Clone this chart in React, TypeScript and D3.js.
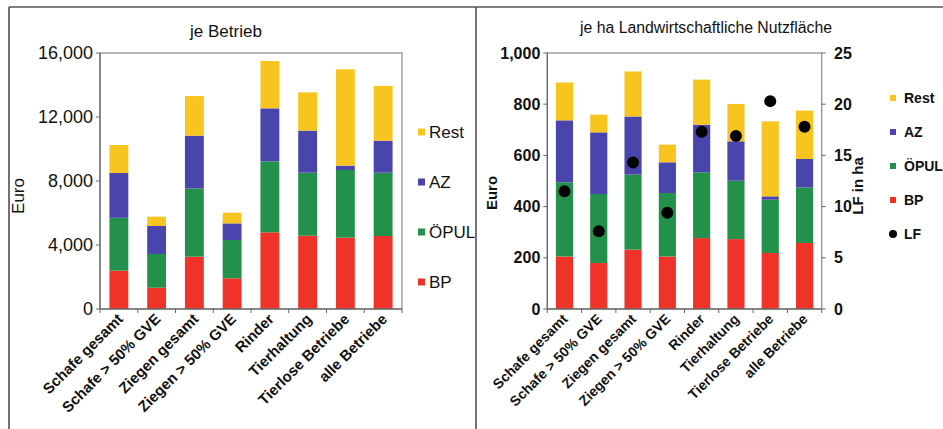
import * as d3 from "d3";

const categories = [
  "Schafe gesamt",
  "Schafe > 50% GVE",
  "Ziegen gesamt",
  "Ziegen > 50% GVE",
  "Rinder",
  "Tierhaltung",
  "Tierlose Betriebe",
  "alle Betriebe",
];
const seriesKeys = ["BP", "ÖPUL", "AZ", "Rest"];

// je Betrieb (Euro)
const betriebBP = [2400, 1330, 3270, 1920, 4790, 4580, 4460, 4560];
const betriebOEPUL = [3300, 2110, 4270, 2390, 4440, 3940, 4230, 3960];
const betriebAZ = [2800, 1750, 3290, 1040, 3310, 2630, 270, 2000];
const betriebRest = [1750, 580, 2480, 670, 2960, 2390, 6020, 3420];

// je ha LF (Euro)
const haBP = [205, 180, 232, 205, 277, 273, 219, 258];
const haOEPUL = [290, 269, 293, 248, 257, 228, 208, 217];
const haAZ = [242, 241, 227, 120, 186, 154, 13, 111];
const haRest = [148, 69, 176, 69, 176, 146, 293, 189];
const haLF = [11.5, 7.6, 14.3, 9.4, 17.3, 16.9, 20.3, 17.8];

const leftTicks = [0, 4000, 8000, 12000, 16000];
const rightTicks = [0, 200, 400, 600, 800, 1000];
const lfTicks = [0, 5, 10, 15, 20, 25];

const colors: Record<string, string> = {
  BP: "#ef3328",
  ÖPUL: "#23914b",
  AZ: "#4a44ad",
  Rest: "#f8c41f",
};

type Row = { cat: string; [k: string]: any };

function buildRows(bp: number[], oe: number[], az: number[], rest: number[]): Row[] {
  return categories.map((c, i) => ({ cat: c, BP: bp[i], ÖPUL: oe[i], AZ: az[i], Rest: rest[i] }));
}

interface PanelProps {
  rows: Row[];
  x0: number;
  x1: number;
  max: number;
  ticks: number[];
  tickFont: any;
  labelSize: number;
  labelDx: number;
}

function Panel({ rows, x0, x1, max, ticks, tickFont, labelSize, labelDx }: PanelProps) {
  const top = 53;
  const bottom = 309;
  const x = d3.scaleBand<string>().domain(categories).range([x0, x1]).paddingInner(0.5).paddingOuter(0.25);
  const y = d3.scaleLinear().domain([0, max]).range([bottom, top]);
  const stacked = d3.stack<Row>().keys(seriesKeys)(rows);
  const fmt = d3.format(",");
  const step = x.step();

  return (
    <g>
      {stacked.map((s) => (
        <g key={s.key} fill={colors[s.key]}>
          {s.map((d, i) => (
            <rect
              key={i}
              x={x(d.data.cat)}
              width={x.bandwidth()}
              y={y(d[1])}
              height={y(d[0]) - y(d[1])}
            />
          ))}
        </g>
      ))}
      <rect x={x0} y={top} width={x1 - x0} height={bottom - top} fill="none" stroke="#8a8a8a" strokeWidth={1.2} />
      <line x1={x0} x2={x1} y1={bottom} y2={bottom} stroke="#555" strokeWidth={1.2} />
      <line x1={x0} x2={x0} y1={top} y2={bottom} stroke="#666" strokeWidth={1.2} />
      {ticks.map((t) => (
        <g key={t}>
          <line x1={x0 - 4} x2={x0} y1={y(t)} y2={y(t)} stroke="#666" />
          <text x={x0 - 7} y={y(t)} dy="0.35em" textAnchor="end" {...tickFont}>
            {fmt(t)}
          </text>
        </g>
      ))}
      {d3.range(categories.length + 1).map((i) => (
        <line key={i} x1={x0 + i * step} x2={x0 + i * step} y1={bottom} y2={bottom + 4} stroke="#666" />
      ))}
      {categories.map((c) => (
        <text
          key={c}
          transform={`translate(${(x(c) as number) + x.bandwidth() / 2 + labelDx},${bottom + 11}) rotate(-45)`}
          textAnchor="end"
          fontFamily="Liberation Sans, Arial, sans-serif"
          fontWeight="bold"
          fontSize={labelSize}
          fill="#111"
        >
          {c}
        </text>
      ))}
    </g>
  );
}

export default function App() {
  const leftRows = buildRows(betriebBP, betriebOEPUL, betriebAZ, betriebRest);
  const rightRows = buildRows(haBP, haOEPUL, haAZ, haRest);
  const legendOrder = ["Rest", "AZ", "ÖPUL", "BP"];

  const lx = d3.scaleBand<string>().domain(categories).range([547.3, 821.7]).paddingInner(0.5).paddingOuter(0.25);
  const y2 = d3.scaleLinear().domain([0, 25]).range([309, 53]);

  const sans = "Liberation Sans, Arial, sans-serif";

  return (
    <div style={{ position: "absolute", left: 0, top: 0 }}>
      <svg width={943} height={429} style={{ display: "block", background: "#fff" }}>
        {/* outer frame */}
        <line x1={9} x2={943} y1={7} y2={7} stroke="#555" strokeWidth={1.5} />
        <line x1={9} x2={9} y1={7} y2={429} stroke="#444" strokeWidth={1.5} />
        <line x1={476} x2={476} y1={7} y2={429} stroke="#444" strokeWidth={1.5} />

        {/* left panel */}
        <text x={226} y={37} textAnchor="middle" fontFamily={sans} fontSize={17} fill="#111">
          je Betrieb
        </text>
        <Panel
          rows={leftRows}
          x0={100}
          x1={402}
          max={16000}
          ticks={leftTicks}
          tickFont={{ fontFamily: sans, fontSize: 18, fill: "#111" }}
          labelSize={15}
          labelDx={5}
        />
        <text transform="translate(24,196) rotate(-90)" textAnchor="middle" fontFamily={sans} fontSize={17} fill="#111">
          Euro
        </text>
        {legendOrder.map((k, i) => (
          <g key={k} transform={`translate(418,${132 + i * 50})`}>
            <rect x={0} y={-3.5} width={7} height={7} fill={colors[k]} />
            <text x={11} y={0} dy="0.35em" fontFamily={sans} fontSize={17} fill="#111">
              {k}
            </text>
          </g>
        ))}

        {/* right panel */}
        <text
          x={706}
          y={33}
          textAnchor="middle"
          fontFamily={sans}
          fontSize={16}
          textLength={252}
          lengthAdjust="spacingAndGlyphs"
          fill="#111"
        >
          je ha Landwirtschaftliche Nutzfläche
        </text>
        <Panel
          rows={rightRows}
          x0={547.3}
          x1={821.7}
          max={1000}
          ticks={rightTicks}
          tickFont={{ fontFamily: sans, fontSize: 16, fontWeight: "bold", fill: "#111" }}
          labelSize={14}
          labelDx={4}
        />
        {lfTicks.map((t) => (
          <g key={t}>
            <line x1={821.7} x2={825.7} y1={y2(t)} y2={y2(t)} stroke="#666" />
            <text x={834} y={y2(t)} dy="0.35em" fontFamily={sans} fontSize={16} fontWeight="bold" fill="#111">
              {t}
            </text>
          </g>
        ))}
        {haLF.map((v, i) => (
          <circle key={i} cx={(lx(categories[i]) as number) + lx.bandwidth() / 2} cy={y2(v)} r={6} fill="#000" />
        ))}
        <text transform="translate(497,193) rotate(-90)" textAnchor="middle" fontFamily={sans} fontSize={15} fontWeight="bold" fill="#111">
          Euro
        </text>
        <text transform="translate(863,186) rotate(-90)" textAnchor="middle" fontFamily={sans} fontSize={15} fontWeight="bold" fill="#111">
          LF in ha
        </text>
        {legendOrder.map((k, i) => (
          <g key={k} transform={`translate(890,${98 + i * 34})`}>
            <rect x={0} y={-3} width={6} height={6} fill={colors[k]} />
            <text x={14} y={0} dy="0.35em" fontFamily={sans} fontSize={14} fontWeight="bold" fill="#111">
              {k}
            </text>
          </g>
        ))}
        <g transform={`translate(890,${98 + 4 * 34})`}>
          <circle cx={3} cy={0} r={4} fill="#000" />
          <text x={14} y={0} dy="0.35em" fontFamily={sans} fontSize={14} fontWeight="bold" fill="#111">
            LF
          </text>
        </g>
      </svg>
    </div>
  );
}
